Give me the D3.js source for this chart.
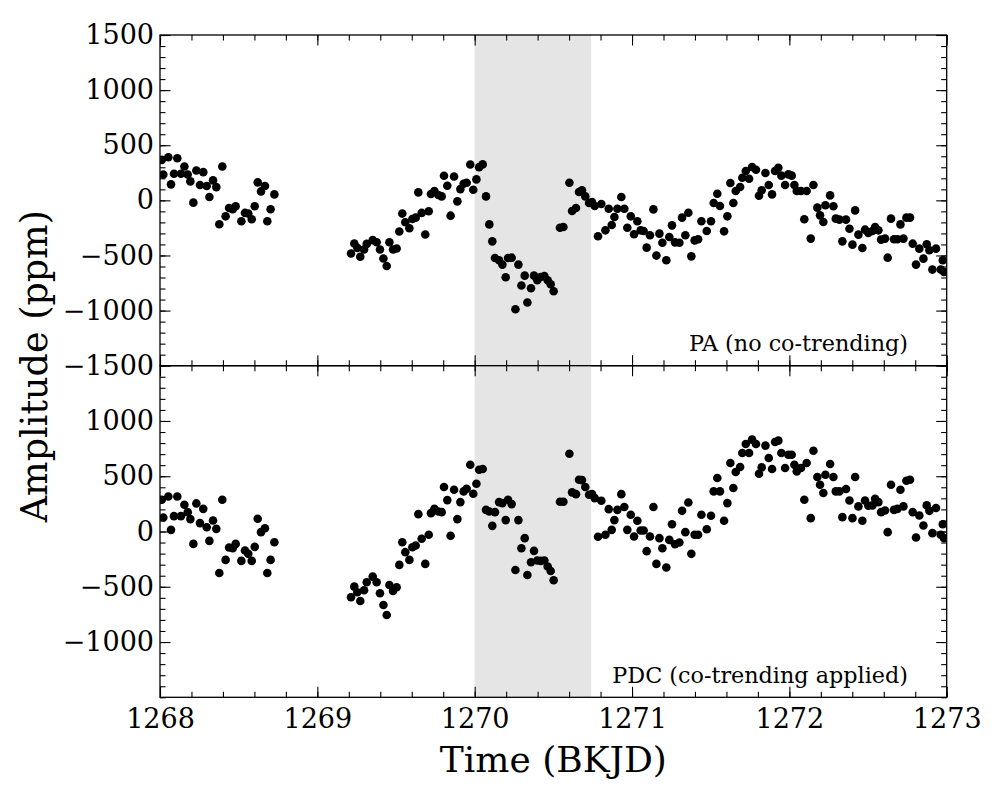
<!DOCTYPE html>
<html>
<head>
<meta charset="utf-8">
<script src="https://cdn.jsdelivr.net/npm/d3@7"></script>
<style>
  html, body { margin: 0; padding: 0; background: #fff; }
  svg { display: block; font-family: "DejaVu Serif", serif; }
</style>
</head>
<body>
<svg id="chart" width="1000" height="800"></svg>
<script>
// ---------------- DATA ----------------
const time = [
  1268.011, 1268.021, 1268.053, 1268.070, 1268.089, 1268.110, 1268.133, 1268.155, 1268.176, 1268.193,
  1268.212, 1268.231, 1268.254, 1268.275, 1268.297, 1268.314, 1268.337, 1268.358, 1268.377, 1268.396,
  1268.417, 1268.439, 1268.462, 1268.481, 1268.517, 1268.540, 1268.561, 1268.583, 1268.602, 1268.621,
  1268.642, 1268.667, 1268.682, 1268.703, 1268.727,
  1269.214, 1269.235, 1269.254, 1269.273, 1269.297, 1269.314, 1269.352, 1269.377, 1269.398, 1269.420,
  1269.441, 1269.458, 1269.481, 1269.504, 1269.521, 1269.540, 1269.559, 1269.585, 1269.604, 1269.625,
  1269.642, 1269.663, 1269.686, 1269.708, 1269.722, 1269.744, 1269.769, 1269.790, 1269.805, 1269.826,
  1269.847, 1269.869, 1269.890, 1269.909, 1269.930, 1269.949, 1269.972, 1269.991, 1270.011, 1270.028,
  1270.051, 1270.072, 1270.093, 1270.112, 1270.129, 1270.155, 1270.176, 1270.197, 1270.212, 1270.235,
  1270.259, 1270.278, 1270.297, 1270.318, 1270.335, 1270.358, 1270.377, 1270.398, 1270.420, 1270.443,
  1270.464, 1270.483, 1270.502, 1270.542, 1270.564, 1270.602, 1270.619, 1270.644, 1270.663, 1270.682,
  1270.703, 1270.727, 1270.746, 1270.763, 1270.784, 1270.805, 1270.831, 1270.852, 1270.871, 1270.888,
  1270.907, 1270.932, 1270.951, 1270.970, 1270.992, 1271.013, 1271.034, 1271.055, 1271.074, 1271.093,
  1271.114, 1271.136, 1271.155, 1271.174, 1271.193, 1271.218, 1271.237, 1271.254, 1271.273, 1271.301,
  1271.318, 1271.339, 1271.358, 1271.377, 1271.398, 1271.420, 1271.441, 1271.475,
  1271.502, 1271.519, 1271.542, 1271.559, 1271.585, 1271.606, 1271.625, 1271.644, 1271.659, 1271.687,
  1271.701, 1271.723, 1271.744, 1271.763, 1271.788, 1271.807, 1271.824, 1271.848, 1271.869, 1271.890,
  1271.909, 1271.930, 1271.949, 1271.973, 1271.994, 1272.015, 1272.032, 1272.047, 1272.074, 1272.095,
  1272.110, 1272.136, 1272.153, 1272.178, 1272.195, 1272.216, 1272.229, 1272.259, 1272.280, 1272.295,
  1272.318, 1272.337, 1272.360, 1272.382, 1272.401, 1272.418, 1272.439, 1272.464, 1272.481, 1272.502,
  1272.528, 1272.545, 1272.566, 1272.583, 1272.608, 1272.625, 1272.646, 1272.665, 1272.687, 1272.706,
  1272.725, 1272.744, 1272.767, 1272.784, 1272.805, 1272.826, 1272.852, 1272.873, 1272.890, 1272.909,
  1272.932, 1272.962, 1272.975, 1272.983
];

// PA flux (no co-trending), ppm
const paFlux = [
  367, 235, 391, 145, 241, 382, 241, 307, 235, 172,
  -21, 271, 139, 256, 130, 30, 181, 120, -217, 307,
  -145, -69, -81, -54, -190, -114, -120, -172, -54, 163,
  81, 130, -190, -81, 54,
  -482, -392, -431, -512, -446, -395, -361, -380, -446, -527,
  -596, -380, -446, -437, -283, -120, -199, -253, -169, -157,
  72, -114, -310, -99, 57, 84, 48, 36, 223, 133,
  -139, 217, -9, 102, 151, 160, 325, 96, 190, 301,
  326, 36, -218, -372, -523, -544, -583, -698, -523, -520,
  -988, -583, -773, -683, -927, -798, -683, -725, -695, -686,
  -725, -761, -825, -248, -242, 160, -97, -69, 76, 91,
  36, -24, -15, -51, -326, -33, -272, -76, -224, -151,
  -76, 30, -76, -248, -145, -308, -190, -272, -278, -429,
  -317, -82, -501, -302, -384, -544, -332, -227, -381, -384,
  -157, -317, -112, -508, -363, -353, -190, -278,
  -190, -24, 60, -51, -281, -145, 157, -24, 85, 121,
  205, 266, 196, 302, 278, 42, 91, 248, 139, 54,
  266, 296, 224, 139, 236, 224, 139, 85, 85, -172,
  85, -347, 139, -66, -136, -196, -45, 45, -54, -166,
  -175, -372, -175, -257, -402, -91, -311, -432, -266, -296,
  -278, -242, -272, -356, -347, -520, -166, -353, -353, -218,
  -347, -157, -157, -393, -583, -438, -529, -399, -453, -628,
  -438, -628, -544, -650
];

// PDC flux (co-trending applied), ppm
const pdcFlux = [
  287, 127, 317, 15, 139, 317, 139, 242, 175, 112,
  -112, 254, 76, 205, 39, -85, 100, 24, -375, 287,
  -257, -145, -151, -112, -266, -172, -202, -266, -139, 115,
  -6, 30, -375, -257, -97,
  -595, -499, -550, -629, -532, -459, -408, -459, -559, -665,
  -756, -484, -538, -505, -302, -97, -187, -257, -142, -127,
  157, -66, -293, -30, 166, 205, 181, 175, 402, 284,
  -39, 378, 112, 266, 363, 387, 604, 341, 432, 559,
  565, 196, 181, 51, 175, 266, 257, 103, 287, 248,
  -348, 103, -151, -60, -393, -278, -175, -263, -266, -263,
  -317, -357, -441, 269, 269, 704, 354, 338, 468, 465,
  402, 332, 338, 302, -48, 278, -30, 202, 15, 103,
  196, 338, 221, 15, 151, -45, 97, 9, 9, -178,
  -45, 221, -293, -60, -151, -326, -76, 66, -115, -100,
  187, -6, 263, -202, -30, -30, 151, 21,
  142, 363, 484, 363, 97, 257, 620, 393, 538, 583,
  710, 792, 710, 831, 792, 523, 580, 777, 665, 565,
  810, 822, 710, 574, 695, 695, 604, 544, 574, 287,
  620, 121, 731, 493, 423, 348, 514, 610, 493, 363,
  363, 130, 384, 281, 121, 493, 227, 97, 281, 233,
  236, 296, 266, 175, 190, -6, 423, 196, 205, 378,
  227, 459, 468, 175, -54, 145, 54, 236, 187, -15,
  212, -30, 66, -60
];

const shadeSpan = [1270.0, 1270.74];
const xTicks = [1268, 1269, 1270, 1271, 1272, 1273];
const yTicksTop = [-1500, -1000, -500, 0, 500, 1000, 1500];
const yTicksBottom = [-1000, -500, 0, 500, 1000];
const panelLabels = ["PA (no co-trending)", "PDC (co-trending applied)"];
const xTitle = "Time (BKJD)";
const yTitle = "Amplitude (ppm)";

// ---------------- LAYOUT ----------------
const svg = d3.select("#chart");
const X0 = 160, X1 = 946.7;
const TOP0 = 35, MID = 365.7, BOT1 = 697.3;

const x = d3.scaleLinear().domain([1268, 1273]).range([X0, X1]);
const yTop = d3.scaleLinear().domain([-1500, 1500]).range([MID, TOP0]);
const yBot = d3.scaleLinear().domain([-1500, 1500]).range([BOT1, MID]);

const fmt = d => (d < 0 ? "\u2212" + Math.abs(d) : String(d));
const minorX = d3.range(1268, 1273.0001, 0.2).map(v => +v.toFixed(1));
const minorY = d3.range(-1500, 1500.0001, 100);

const panels = [
  { y: yTop, vals: paFlux, top: TOP0, bottom: MID, yTicks: yTicksTop, label: panelLabels[0], showX: false },
  { y: yBot, vals: pdcFlux, top: MID, bottom: BOT1, yTicks: yTicksBottom, label: panelLabels[1], showX: true }
];

panels.forEach((p, i) => {
  const g = svg.append("g");
  // shaded region
  g.append("rect")
    .attr("x", x(shadeSpan[0]))
    .attr("y", p.top)
    .attr("width", x(shadeSpan[1]) - x(shadeSpan[0]))
    .attr("height", p.bottom - p.top)
    .attr("fill", "#e5e5e5");

  // clip for points
  const clipId = "clip" + i;
  svg.append("clipPath").attr("id", clipId)
    .append("rect").attr("x", X0).attr("y", p.top).attr("width", X1 - X0).attr("height", p.bottom - p.top);

  g.append("g").attr("clip-path", `url(#${clipId})`)
    .selectAll("circle")
    .data(time.map((t, k) => [t, p.vals[k]]))
    .join("circle")
    .attr("cx", d => x(d[0]))
    .attr("cy", d => p.y(d[1]))
    .attr("r", 4.3)
    .attr("fill", "#000");

  // axes (ticks pointing inward)
  const addAxis = (axis, tx, ty) => {
    const a = g.append("g").attr("transform", `translate(${tx},${ty})`).call(axis);
    a.select(".domain").remove();
    a.selectAll(".tick line").attr("stroke", "#000").attr("stroke-width", 1.1);
    a.selectAll("text").attr("font-family", "DejaVu Serif, serif").attr("font-size", 27).attr("fill", "#000");
    return a;
  };

  // left
  addAxis(d3.axisLeft(p.y).tickValues(minorY).tickSize(-5.5).tickFormat(""), X0, 0);
  addAxis(d3.axisLeft(p.y).tickValues(p.yTicks).tickSize(-10.5).tickPadding(6).tickFormat(fmt), X0, 0);
  // right
  addAxis(d3.axisRight(p.y).tickValues(minorY).tickSize(-5.5).tickFormat(""), X1, 0);
  addAxis(d3.axisRight(p.y).tickValues(p.yTicks).tickSize(-10.5).tickFormat(""), X1, 0);
  // top
  addAxis(d3.axisTop(x).tickValues(minorX).tickSize(-5.5).tickFormat(""), 0, p.top);
  addAxis(d3.axisTop(x).tickValues(xTicks).tickSize(-10.5).tickFormat(""), 0, p.top);
  // bottom
  addAxis(d3.axisBottom(x).tickValues(minorX).tickSize(-5.5).tickFormat(""), 0, p.bottom);
  addAxis(d3.axisBottom(x).tickValues(xTicks).tickSize(-10.5).tickPadding(12)
    .tickFormat(p.showX ? d3.format("d") : ""), 0, p.bottom);

  // frame
  g.append("rect")
    .attr("x", X0).attr("y", p.top)
    .attr("width", X1 - X0).attr("height", p.bottom - p.top)
    .attr("fill", "none").attr("stroke", "#000").attr("stroke-width", 1.3);

  // panel label
  g.append("text")
    .attr("x", 908).attr("y", p.bottom - 14.5)
    .attr("text-anchor", "end")
    .attr("font-size", 22.3)
    .attr("fill", "#000")
    .text(p.label);
});

// axis titles
svg.append("text")
  .attr("x", (X0 + X1) / 2).attr("y", 772)
  .attr("text-anchor", "middle")
  .attr("font-size", 36)
  .attr("fill", "#000")
  .text(xTitle);

svg.append("text")
  .attr("transform", `translate(47,${(TOP0 + BOT1) / 2}) rotate(-90)`)
  .attr("text-anchor", "middle")
  .attr("font-size", 36.5)
  .attr("fill", "#000")
  .text(yTitle);
</script>
</body>
</html>
